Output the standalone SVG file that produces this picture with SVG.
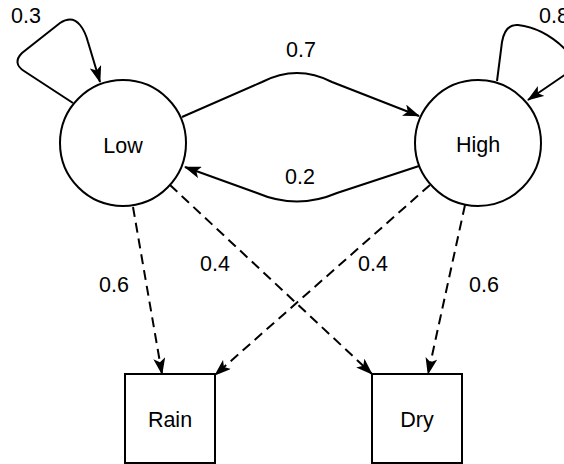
<svg xmlns="http://www.w3.org/2000/svg" width="564" height="464" viewBox="0 0 564 464">
  <style>
    .node { fill: #ffffff; stroke: #000000; stroke-width: 2; }
    .label { font-family: "Liberation Sans", Arial, Helvetica, sans-serif; font-size: 21.5px; fill: #000000; text-anchor: middle; }
    .edge { fill: none; stroke: #000000; stroke-width: 2; marker-end: url(#arrow); }
    .dashed { stroke-dasharray: 10 6; }
  </style>
  <defs>
    <marker id="arrow" markerUnits="userSpaceOnUse" viewBox="0 0 17 12" refX="16" refY="6" markerWidth="17" markerHeight="12" orient="auto">
      <path d="M0,0 L17,6 L0,12 L4,6 Z" fill="#000000"/>
    </marker>
  </defs>
  <rect x="0" y="0" width="564" height="464" fill="#ffffff"/>

  <g id="connectors">
    <!-- self loops -->
    <path class="edge" d="M73,103 L24,71 Q12,63 22,53 L60,23 Q72,15 80,25 Q85,31 88,42 L100,82"/>
    <path class="edge" d="M497,81 L502,42 Q505,24 518,25 Q545,28 568,52 Q580,64 566,74 L528,100"/>
    <!-- state transitions -->
    <path class="edge" d="M182,117 L262,82 Q297,64 332,82 L419,116"/>
    <path class="edge" d="M419,166 L337,193 Q297,210 257,193 L185,167"/>
    <!-- emissions -->
    <path class="edge dashed" d="M133,207 L162,374"/>
    <path class="edge dashed" d="M170,185 L372,374"/>
    <path class="edge dashed" d="M430,185 L215,375"/>
    <path class="edge dashed" d="M465,205 L428,374"/>
  </g>

  <g id="edge-labels">
    <text class="label" x="26" y="23">0.3</text>
    <text class="label" x="554" y="23">0.8</text>
    <text class="label" x="301" y="57">0.7</text>
    <text class="label" x="300" y="184">0.2</text>
    <text class="label" x="114" y="292">0.6</text>
    <text class="label" x="215" y="271">0.4</text>
    <text class="label" x="373" y="271">0.4</text>
    <text class="label" x="484" y="292">0.6</text>
  </g>

  <g id="node-low">
    <circle class="node" cx="123" cy="143" r="63"/>
    <text class="label" x="123" y="153">Low</text>
  </g>
  <g id="node-high">
    <circle class="node" cx="478" cy="143" r="63"/>
    <text class="label" x="478" y="152">High</text>
  </g>
  <g id="node-rain">
    <rect class="node" x="125" y="374" width="90" height="89"/>
    <text class="label" x="170" y="427">Rain</text>
  </g>
  <g id="node-dry">
    <rect class="node" x="372" y="374" width="90" height="89"/>
    <text class="label" x="417" y="427">Dry</text>
  </g>
</svg>
